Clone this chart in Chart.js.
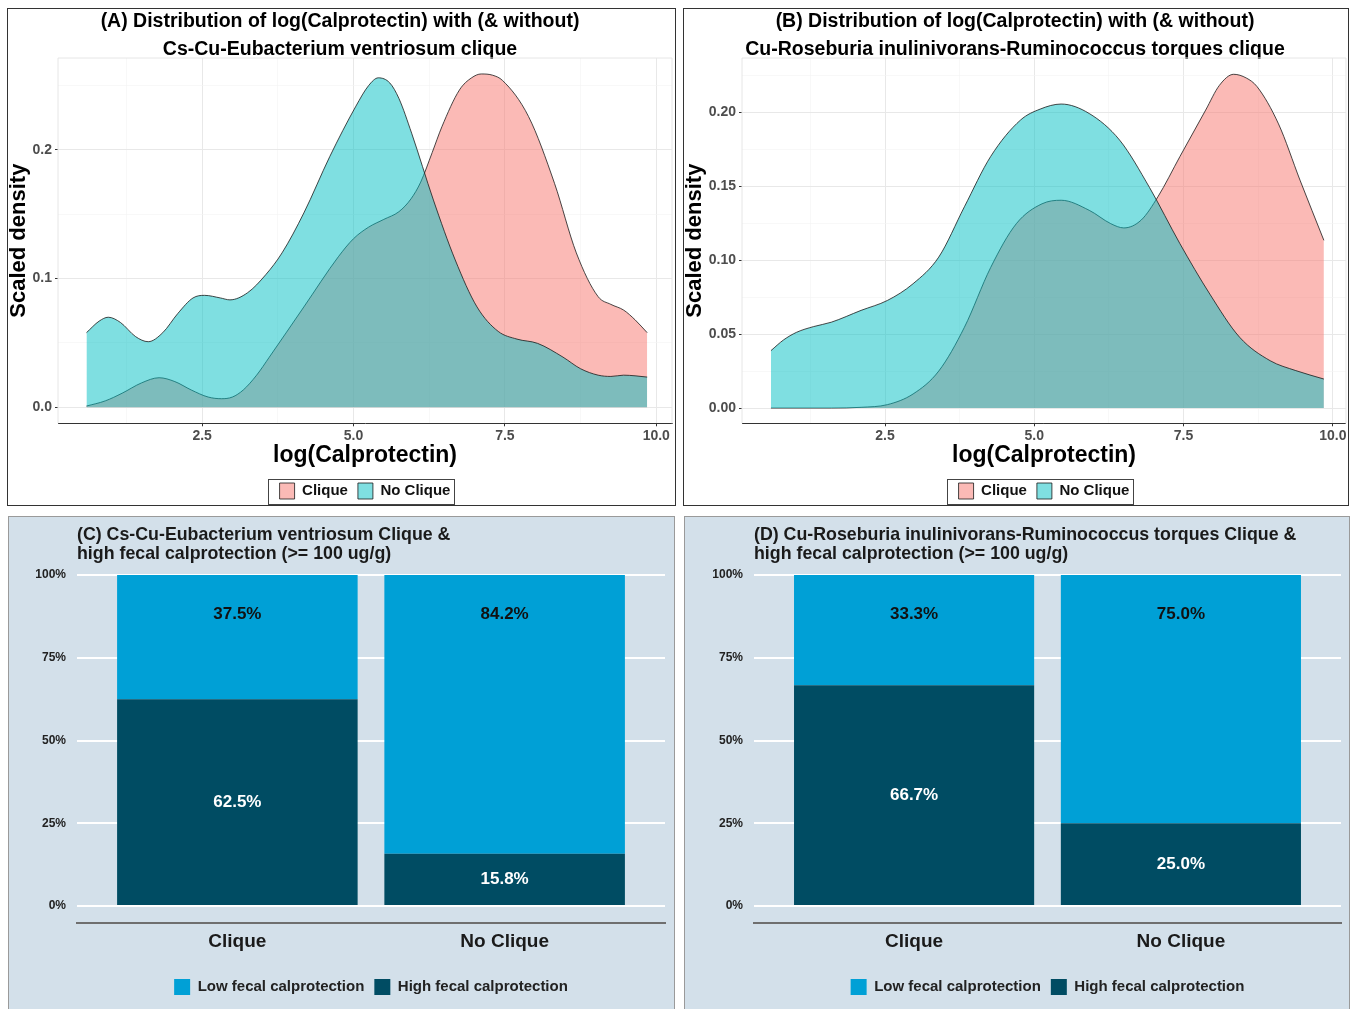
<!DOCTYPE html>
<html>
<head>
<meta charset="utf-8">
<script src="https://cdn.jsdelivr.net/npm/chart.js@4.4.1/dist/chart.umd.min.js"></script>
<style>
  body { margin: 0; background: #fff; width: 1354px; height: 1009px; overflow: hidden; position: relative; }
  .panel { position: absolute; box-sizing: border-box; }
  .dens { border: 1px solid #333; background: #fff; }
  .bars { border: 1px solid #9a9a9a; background: #d3e0ea; }
  canvas { display: block; }
</style>
</head>
<body>
<div class="panel dens" style="left:7px;top:8px;width:669px;height:498px"><canvas id="chartA" width="667" height="496"></canvas></div>
<div class="panel dens" style="left:683px;top:8px;width:666px;height:498px"><canvas id="chartB" width="664" height="496"></canvas></div>
<div class="panel bars" style="left:8px;top:516px;width:667px;height:494px"><canvas id="chartC" width="665" height="492"></canvas></div>
<div class="panel bars" style="left:684px;top:516px;width:666px;height:494px"><canvas id="chartD" width="664" height="492"></canvas></div>
<script>
// ---- density curves, log(Calprotectin) ----
const aNoCliqueX = [0.59, 0.80, 0.95, 1.15, 1.40, 1.61, 1.85, 2.10, 2.35, 2.54, 2.80, 2.96, 3.25, 3.55, 3.82, 4.18, 4.61, 5.04, 5.25, 5.41, 5.60, 5.75, 5.96, 6.32, 6.68, 7.04, 7.39, 7.70, 8.04, 8.46, 8.75, 9.04, 9.25, 9.46, 9.65, 9.85];
const aNoCliqueY = [0.058, 0.067, 0.070, 0.066, 0.055, 0.051, 0.058, 0.073, 0.085, 0.087, 0.085, 0.0835, 0.089, 0.103, 0.120, 0.151, 0.195, 0.234, 0.250, 0.256, 0.252, 0.240, 0.213, 0.161, 0.1145, 0.078, 0.059, 0.053, 0.0497, 0.039, 0.030, 0.025, 0.024, 0.025, 0.0245, 0.0235];
const aCliqueX = [0.59, 0.90, 1.18, 1.50, 1.79, 2.05, 2.32, 2.60, 2.82, 3.00, 3.18, 3.40, 3.61, 4.18, 4.75, 5.00, 5.25, 5.50, 5.75, 5.95, 6.11, 6.30, 6.46, 6.75, 6.95, 7.11, 7.30, 7.46, 7.89, 8.32, 8.68, 9.04, 9.25, 9.46, 9.65, 9.85];
const aCliqueY = [0.001, 0.005, 0.011, 0.019, 0.023, 0.020, 0.0135, 0.008, 0.0067, 0.008, 0.0135, 0.025, 0.039, 0.078, 0.117, 0.131, 0.140, 0.146, 0.152, 0.162, 0.175, 0.198, 0.218, 0.2466, 0.256, 0.259, 0.258, 0.254, 0.226, 0.174, 0.120, 0.086, 0.080, 0.0756, 0.068, 0.058];

const bNoCliqueX = [0.59, 0.80, 1.02, 1.30, 1.60, 2.10, 2.54, 2.97, 3.40, 3.83, 4.27, 4.77, 5.10, 5.45, 5.92, 6.43, 6.93, 7.44, 7.94, 8.44, 8.95, 9.38, 9.85];
const bNoCliqueY = [0.0388, 0.046, 0.0512, 0.055, 0.058, 0.066, 0.0727, 0.084, 0.102, 0.136, 0.170, 0.1946, 0.202, 0.2054, 0.199, 0.181, 0.149, 0.111, 0.077, 0.0478, 0.032, 0.0253, 0.0196];
const bCliqueX = [0.59, 1.60, 2.10, 2.54, 2.97, 3.40, 3.83, 4.27, 4.70, 5.13, 5.45, 5.92, 6.28, 6.50, 6.79, 7.07, 7.44, 7.87, 8.10, 8.34, 8.55, 8.73, 9.09, 9.45, 9.85];
const bCliqueY = [0, 0, 0.0005, 0.0023, 0.0095, 0.025, 0.0546, 0.095, 0.1246, 0.138, 0.1404, 0.1336, 0.1246, 0.1217, 0.127, 0.1427, 0.170, 0.2013, 0.218, 0.2255, 0.223, 0.2172, 0.192, 0.154, 0.1133];

const densityTicksX = [2.5, 5, 7.5, 10];
const aTicksY = [0, 0.1, 0.2];
const bTicksY = [0, 0.05, 0.1, 0.15, 0.2];

// ---- share of high / low fecal calprotection per group (%) ----
const groupLabels = ['Clique', 'No Clique'];
const cHigh = [62.5, 15.8];
const cLow = [37.5, 84.2];
const dHigh = [66.7, 25.0];
const dLow = [33.3, 75.0];
const pctTicks = [0, 25, 50, 75, 100];

const FONT = "'Liberation Sans', Arial, Helvetica, sans-serif";

// major ticks plus the half steps between them that fall inside [min, max]
function withMinor(major, min, max) {
  const step = major[1] - major[0];
  const out = [];
  for (let v = major[0] - step / 2; v <= max + 1e-9; v += step / 2) {
    if (v >= min - 1e-9) out.push(+v.toFixed(6));
  }
  return out;
}
const isMajor = (list, v) => list.some(m => Math.abs(m - v) < 1e-9);
const toPoints = (xs, ys) => xs.map((x, i) => ({ x, y: ys[i] }));

// light frame round the plotting area
const plotFrame = {
  id: 'plotFrame',
  beforeDatasetsDraw(chart) {
    const { ctx, chartArea: a } = chart;
    ctx.save();
    ctx.strokeStyle = '#e6e6e6';
    ctx.lineWidth = 1;
    ctx.beginPath();
    ctx.moveTo(a.left, a.bottom);
    ctx.lineTo(a.left, a.top);
    ctx.lineTo(a.right, a.top);
    ctx.lineTo(a.right, a.bottom);
    ctx.stroke();
    ctx.restore();
  }
};

// box drawn round the legend entries
const legendFrame = {
  id: 'legendFrame',
  afterDraw(chart) {
    const boxes = chart.legend.legendHitBoxes;
    if (!boxes || !boxes.length) return;
    const left = Math.min(...boxes.map(b => b.left)) - 12;
    const right = Math.max(...boxes.map(b => b.left + b.width)) + 3;
    const top = boxes[0].top - 4.5;
    const bottom = boxes[0].top + boxes[0].height + 4.5;
    const ctx = chart.ctx;
    ctx.save();
    ctx.strokeStyle = '#444';
    ctx.lineWidth = 1;
    ctx.strokeRect(Math.round(left) + 0.5, Math.round(top) + 0.5, Math.round(right - left), Math.round(bottom - top));
    ctx.restore();
  }
};

// percentage written on each stacked segment
const barLabels = {
  id: 'barLabels',
  afterDatasetsDraw(chart) {
    const { ctx } = chart;
    const y = chart.scales.y;
    const last = chart.data.datasets.length - 1;
    ctx.save();
    ctx.font = 'bold 17px ' + FONT;
    ctx.textAlign = 'center';
    ctx.textBaseline = 'middle';
    chart.data.datasets.forEach((ds, di) => {
      chart.getDatasetMeta(di).data.forEach((bar, i) => {
        const v = ds.data[i].y;
        const topSeg = di === last;
        const yPix = topSeg ? bar.y + (y.getPixelForValue(0) - y.getPixelForValue(12)) : (bar.y + bar.base) / 2;
        ctx.fillStyle = topSeg ? '#111' : '#fff';
        ctx.fillText(v.toFixed(1) + '%', bar.x, yPix);
      });
    });
    ctx.restore();
  }
};

function densityChart(id, o) {
  const xTicks = withMinor(densityTicksX, o.xMin, o.xMax);
  const yTicks = withMinor(o.yMajor, o.yMin, o.yMax);
  const line = { borderColor: '#1a1a1a', borderWidth: 0.8, pointRadius: 0, fill: 'origin', cubicInterpolationMode: 'monotone' };
  return new Chart(document.getElementById(id), {
    type: 'line',
    data: {
      datasets: [
        Object.assign({ label: 'Clique', data: toPoints(o.cliqueX, o.cliqueY), backgroundColor: 'rgba(248,118,109,0.5)', order: 2 }, line),
        Object.assign({ label: 'No Clique', data: toPoints(o.noX, o.noY), backgroundColor: 'rgba(0,191,196,0.5)', order: 1 }, line)
      ]
    },
    options: {
      responsive: false,
      animation: false,
      layout: { padding: { left: 0, right: o.padRight, top: 0, bottom: -4 } },
      plugins: {
        title: {
          display: true, text: o.title, color: '#000',
          font: { family: FONT, size: 19.5, weight: 'bold', lineHeight: '28px' },
          padding: { top: -1, bottom: -6 }
        },
        legend: {
          position: 'bottom', fullSize: false,
          labels: {
            boxWidth: 15, boxHeight: 16, padding: 10, color: '#111',
            font: { family: FONT, size: 15, weight: 'bold' },
            sort: (a, b) => a.datasetIndex - b.datasetIndex
          }
        },
        tooltip: { enabled: false }
      },
      scales: {
        x: {
          type: 'linear', min: o.xMin, max: o.xMax,
          afterBuildTicks: s => { s.ticks = xTicks.map(v => ({ value: v })); },
          afterFit: s => { s.height = 49.7; },
          grid: {
            color: c => isMajor(densityTicksX, c.tick.value) ? '#e8e8e8' : '#f4f4f4',
            lineWidth: c => isMajor(densityTicksX, c.tick.value) ? 1 : 0.6,
            drawTicks: true, tickLength: 3,
            tickColor: c => isMajor(densityTicksX, c.tick.value) ? '#333' : 'rgba(0,0,0,0)'
          },
          border: { display: true, color: '#333', width: 1 },
          ticks: {
            padding: 1.5, color: '#4d4d4d', autoSkip: false, maxRotation: 0,
            font: { family: FONT, size: 14, weight: 'bold' },
            callback: v => isMajor(densityTicksX, v) ? v.toFixed(1) : ''
          },
          title: {
            display: true, text: 'log(Calprotectin)', color: '#000',
            font: { family: FONT, size: 23, weight: 'bold' },
            padding: { top: 0, bottom: 3.2 }
          }
        },
        y: {
          type: 'linear', min: o.yMin, max: o.yMax,
          afterBuildTicks: s => { s.ticks = yTicks.map(v => ({ value: v })); },
          afterFit: s => { s.width = o.yWidth; },
          grid: {
            color: c => isMajor(o.yMajor, c.tick.value) ? '#e8e8e8' : '#f4f4f4',
            lineWidth: c => isMajor(o.yMajor, c.tick.value) ? 1 : 0.6,
            drawTicks: true, tickLength: 3,
            tickColor: c => isMajor(o.yMajor, c.tick.value) ? '#333' : 'rgba(0,0,0,0)'
          },
          border: { display: false },
          ticks: {
            padding: 3, color: '#4d4d4d', autoSkip: false,
            font: { family: FONT, size: 14, weight: 'bold' },
            callback: v => isMajor(o.yMajor, v) ? v.toFixed(o.digits) : ''
          },
          title: {
            display: true, text: 'Scaled density', color: '#000',
            font: { family: FONT, size: 22, weight: 'bold', lineHeight: 1 },
            padding: 0
          }
        }
      }
    },
    plugins: [plotFrame, legendFrame]
  });
}

function stackChart(id, o) {
  const pos = groupLabels.map((_, i) => i + 1);
  return new Chart(document.getElementById(id), {
    type: 'bar',
    data: {
      datasets: [
        { label: 'High fecal calprotection', data: toPoints(pos, o.high), backgroundColor: '#004c63' },
        { label: 'Low fecal calprotection', data: toPoints(pos, o.low), backgroundColor: '#00a0d6' }
      ]
    },
    options: {
      responsive: false,
      animation: false,
      datasets: { bar: { barPercentage: 0.9, categoryPercentage: 1, borderWidth: 0 } },
      layout: { padding: { left: 0, right: o.padRight, top: 0, bottom: 4 } },
      plugins: {
        title: {
          display: true, text: o.title, color: '#1a1a1a', align: 'start', fullSize: false,
          font: { family: FONT, size: 17.8, weight: 'bold', lineHeight: '19px' },
          padding: { top: 8.5, bottom: -5 }
        },
        legend: {
          position: 'bottom', fullSize: false,
          labels: {
            boxWidth: 16, boxHeight: 16, padding: 10, color: '#222',
            font: { family: FONT, size: 15, weight: 'bold' },
            sort: (a, b) => b.datasetIndex - a.datasetIndex
          }
        },
        tooltip: { enabled: false }
      },
      scales: {
        x: {
          type: 'linear', stacked: true, min: 0.4, max: 2.6, offset: false,
          afterBuildTicks: s => { s.ticks = pos.map(v => ({ value: v })); },
          afterFit: s => { s.height = 46.5; },
          grid: { display: false, drawTicks: false, offset: false },
          border: { display: true, color: '#6f6f6f', width: 2 },
          ticks: {
            padding: 8, color: '#1a1a1a', autoSkip: false, maxRotation: 0,
            font: { family: FONT, size: 19, weight: 'bold' },
            callback: v => groupLabels[v - 1]
          }
        },
        y: {
          type: 'linear', stacked: true, min: -5, max: 105,
          afterBuildTicks: s => { s.ticks = pctTicks.map(v => ({ value: v })); },
          afterFit: s => { s.width = o.yWidth; },
          grid: { color: '#ffffff', lineWidth: 2, drawTicks: false },
          border: { display: false },
          ticks: {
            padding: 11, color: '#222',
            font: { family: FONT, size: 12, weight: 'bold' },
            callback: v => v + '%'
          }
        }
      }
    },
    plugins: [barLabels]
  });
}

densityChart('chartA', {
  title: ['(A) Distribution of log(Calprotectin) with (& without)', 'Cs-Cu-Eubacterium ventriosum clique'],
  cliqueX: aCliqueX, cliqueY: aCliqueY, noX: aNoCliqueX, noY: aNoCliqueY,
  xMin: 0.12, xMax: 10.26, yMin: -0.0124, yMax: 0.2714,
  yMajor: aTicksY, digits: 1, yWidth: 50, padRight: 3
});

densityChart('chartB', {
  title: ['(B) Distribution of log(Calprotectin) with (& without)', 'Cu-Roseburia inulinivorans-Ruminococcus torques clique'],
  cliqueX: bCliqueX, cliqueY: bCliqueY, noX: bNoCliqueX, noY: bNoCliqueY,
  xMin: 0.105, xMax: 10.22, yMin: -0.0103, yMax: 0.2365,
  yMajor: bTicksY, digits: 2, yWidth: 58, padRight: 2
});

stackChart('chartC', {
  title: ['(C) Cs-Cu-Eubacterium ventriosum Clique &', 'high fecal calprotection (>= 100 ug/g)'],
  high: cHigh, low: cLow, yWidth: 68, padRight: 9
});

stackChart('chartD', {
  title: ['(D) Cu-Roseburia inulinivorans-Ruminococcus torques Clique &', 'high fecal calprotection (>= 100 ug/g)'],
  high: dHigh, low: dLow, yWidth: 69, padRight: 8
});
</script>
</body>
</html>
